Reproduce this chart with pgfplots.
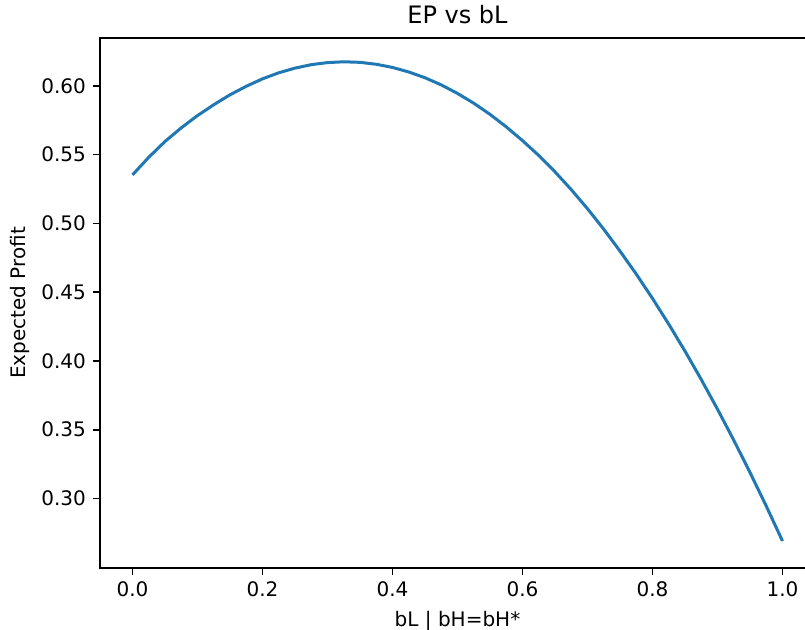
\documentclass[border=0pt]{standalone}
\usepackage{fontspec}
\setmainfont{DejaVu Sans}
\usepackage{pgfplots}
\pgfplotsset{compat=1.18}
\definecolor{mplblue}{HTML}{1F77B4}

\begin{document}
\begin{tikzpicture}
\begin{axis}[
  at={(0,0)}, anchor=south west,
  width=357.5pt, height=265pt,
  scale only axis=true,
  xmin=-0.05, xmax=1.05,
  ymin=0.2495, ymax=0.6347,
  xtick={0,0.2,0.4,0.6,0.8,1.0},
  ytick={0.30,0.35,0.40,0.45,0.50,0.55,0.60},
  tick pos=left,
  tick align=outside,
  major tick length=3.5pt,
  every tick/.style={black, line width=0.8pt},
  axis line style={black, line width=0.8pt},
  /pgf/number format/assume math mode=true,
  tick label style={font=\fontsize{10}{12}\selectfont},
  xticklabel style={/pgf/number format/.cd, fixed, fixed zerofill, precision=1},
  yticklabel style={/pgf/number format/.cd, fixed, fixed zerofill, precision=2},
  scaled ticks=false,
  title={EP vs bL},
  every axis title/.style={at={(axis description cs:0.5,1.0264)}, anchor=base, font=\fontsize{12}{14}\selectfont},
  xlabel={bL | bH=bH*},
  ylabel={Expected Profit},
  every axis x label/.style={at={(axis description cs:0.5,-0.1)}, anchor=center, font=\fontsize{10}{12}\selectfont},
  every axis y label/.style={at={(axis description cs:-0.1119,0.5)}, rotate=90, anchor=center, font=\fontsize{10}{12}\selectfont},
]
\addplot[color=mplblue, line width=1.5pt, line join=round] coordinates {
(0.000,0.5352) (0.025,0.5480) (0.050,0.5595) (0.075,0.5694) (0.100,0.5783)
(0.125,0.5862) (0.150,0.5934) (0.175,0.5996) (0.200,0.6050) (0.225,0.6094)
(0.250,0.6128) (0.275,0.6153) (0.300,0.6168) (0.325,0.6174) (0.350,0.6170)
(0.375,0.6156) (0.400,0.6133) (0.425,0.6100) (0.450,0.6058) (0.475,0.6006)
(0.500,0.5944) (0.525,0.5873) (0.550,0.5792) (0.575,0.5701) (0.600,0.5601)
(0.625,0.5493) (0.650,0.5374) (0.675,0.5245) (0.700,0.5106) (0.725,0.4957)
(0.750,0.4798) (0.775,0.4631) (0.800,0.4454) (0.825,0.4267) (0.850,0.4071)
(0.875,0.3865) (0.900,0.3649) (0.925,0.3424) (0.950,0.3189) (0.975,0.2945)
(1.000,0.2691)
};
\end{axis}
\pgfresetboundingbox
\useasboundingbox (-50pt,-31pt) rectangle (352.5pt,284pt);
\end{tikzpicture}
\end{document}
